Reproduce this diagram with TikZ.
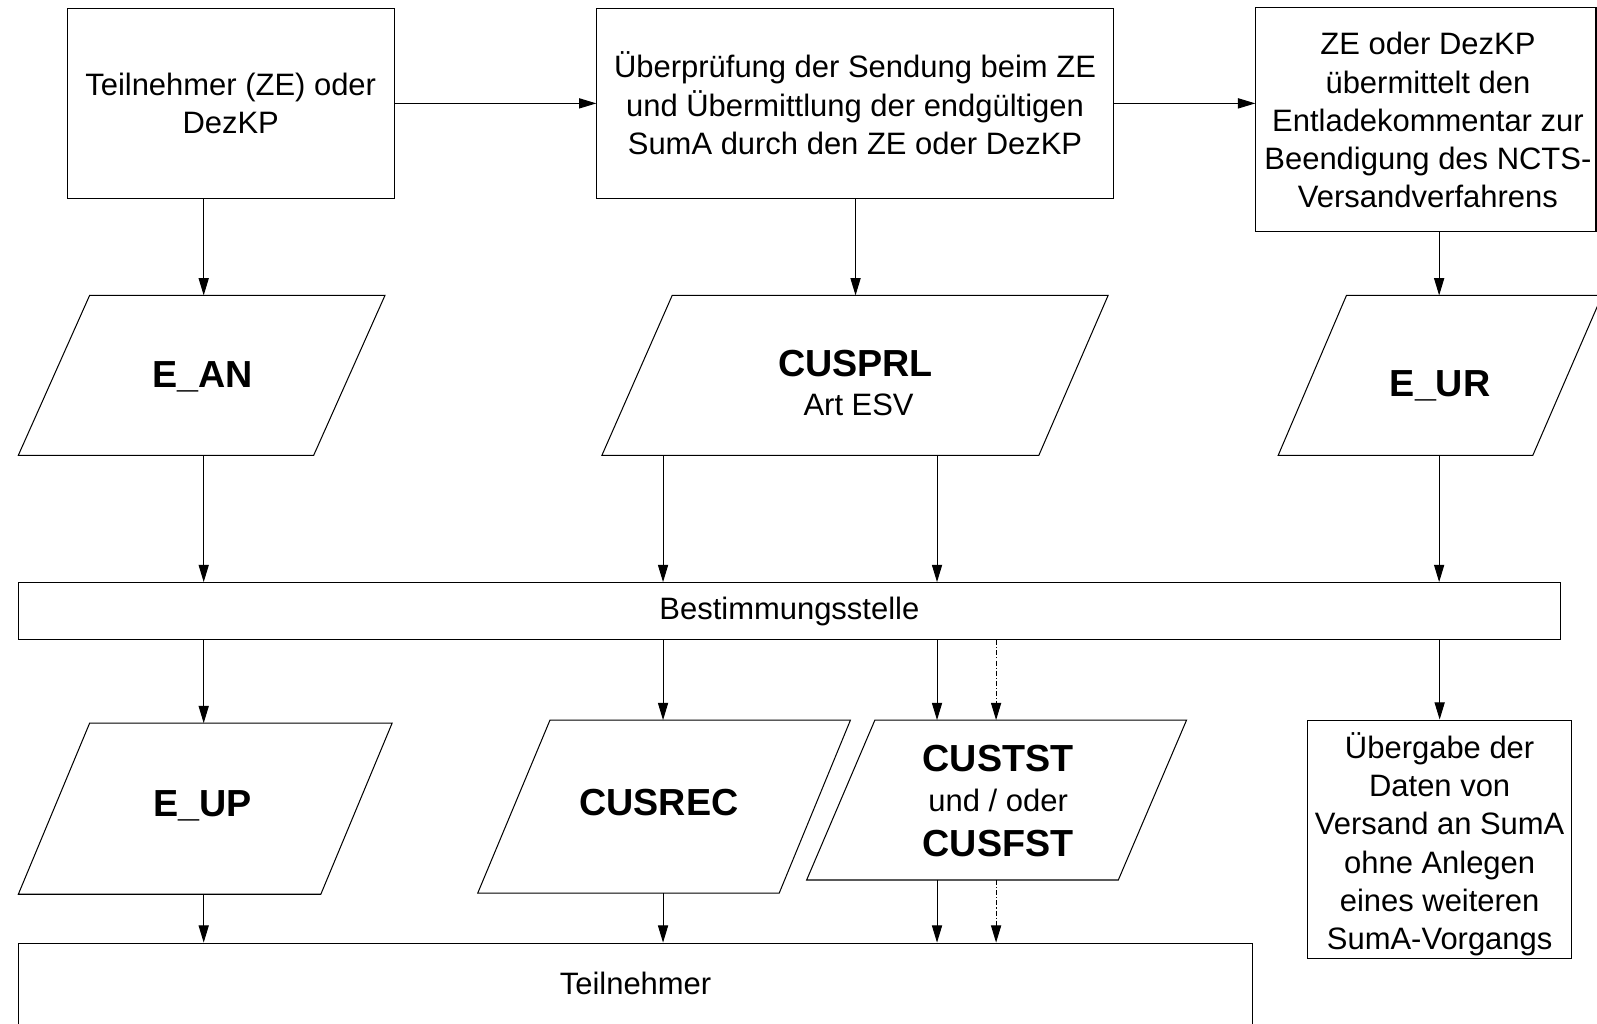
\documentclass[tikz,border=0pt]{standalone}
\usepackage{fontspec}
\setmainfont{Liberation Sans}
\usetikzlibrary{arrows.meta}
\newcommand\rfont{\fontsize{30.4}{37.5}\selectfont}
\newcommand\bfnt{\fontsize{37}{42}\selectfont\bfseries}
\begin{document}
\begin{tikzpicture}[x=1pt,y=-1pt,
  box/.style={draw, line width=1pt, align=center, font=\rfont, inner sep=0pt},
  para/.style={draw, line width=1pt, line join=miter},
  arr/.style={draw, line width=1pt, -{Triangle[length=17pt,width=10pt]}},
  dd/.style={dash pattern=on 5pt off 2pt on 1pt off 2pt},
  big/.style={font=\bfnt, inner sep=0pt, anchor=base},
  sml/.style={font=\rfont, inner sep=0pt, anchor=base},
  inlbl/.style={font=\rfont, align=center, inner sep=0pt}]
\clip (0,0) rectangle (1568,1005);
\fill[white] (0,0) rectangle (1568,1005);

% top row boxes
\node[box, minimum width=321pt, minimum height=187pt] (a) at (226.5,101.5) {Teilnehmer (ZE) oder\\DezKP};
\node[box, minimum width=507pt, minimum height=187pt] (b) at (839.5,101.5) {Überprüfung der Sendung beim ZE\\und Übermittlung der endgültigen\\SumA durch den ZE oder DezKP};
\node[box, minimum width=334pt, minimum height=220pt,
  label={[inlbl, xshift=2pt, yshift=-1pt]center:ZE oder DezKP\\übermittelt den\\Entladekommentar zur\\Beendigung des NCTS-\\Versandverfahrens}] (c) at (1400,117) {};

% row 1 parallelograms
\draw[para] (88,290) -- (378,290) -- (308,447) -- (18,447) -- cycle;
\coordinate (eanT) at (200,290); \coordinate (eanB) at (200,447);
\node[big] (ean) at (199,380) {E\_AN};

\draw[para] (660,290) -- (1088,290) -- (1020,447) -- (591,447) -- cycle;
\coordinate (prlT) at (840,290); \coordinate (prlB1) at (651,447); \coordinate (prlB2) at (920,447);
\node[big] (prl) at (840,370) {CUSPRL};
\node[sml] (prlart) at (843,408) {Art ESV};

\draw[para] (1322,290) -- (1573,290) -- (1505,447) -- (1255,447) -- cycle;
\coordinate (eurT) at (1413,290); \coordinate (eurB) at (1413,447);
\node[big] (eur) at (1414,389) {E\_UR};

% Bestimmungsstelle
\node[box, minimum width=1514pt, minimum height=56pt] (best) at (775,600) {Bestimmungsstelle};

% row 2
\draw[para] (88,710) -- (385,710) -- (315,878) -- (18,878) -- cycle;
\coordinate (eupT) at (200,710); \coordinate (eupB) at (200,878);
\node[big] (eup) at (199,802) {E\_UP};

\draw[para] (540,707) -- (835,707) -- (765,877) -- (469,877) -- cycle;
\coordinate (recT) at (651,707); \coordinate (recB) at (651,877);
\node[big] (rec) at (647,801) {CUSREC};

\draw[para] (859,707) -- (1165,707) -- (1098,864) -- (792,864) -- cycle;
\coordinate (tstT1) at (920,707); \coordinate (tstT2) at (978,707);
\coordinate (tstB1) at (920,864); \coordinate (tstB2) at (978,864);
\node[big] (tst) at (980,757) {CUSTST};
\node[sml] (und) at (980,797) {und / oder};
\node[big] (fst) at (980,841) {CUSFST};

\node[box, minimum width=259pt, minimum height=234pt,
  label={[inlbl, yshift=-5pt]center:Übergabe der\\Daten von\\Versand an SumA\\ohne Anlegen\\eines weiteren\\SumA-Vorgangs}] (ueb) at (1413.5,824) {};

\node[box, minimum width=1212pt, minimum height=80pt] (teil) at (624,966) {Teilnehmer};

% connectors
\draw[arr] (a.east) -- (b.west);
\draw[arr] (b.east) -- (b.east -| c.west);
\draw[arr] (a.south -| eanT) -- (eanT);
\draw[arr] (b.south -| prlT) -- (prlT);
\draw[arr] (c.south -| eurT) -- (eurT);
\draw[arr] (eanB) -- (eanB |- best.north);
\draw[arr] (prlB1) -- (prlB1 |- best.north);
\draw[arr] (prlB2) -- (prlB2 |- best.north);
\draw[arr] (eurB) -- (eurB |- best.north);
\draw[arr] (best.south -| eupT) -- (eupT);
\draw[arr] (best.south -| recT) -- (recT);
\draw[arr] (best.south -| tstT1) -- (tstT1);
\draw[arr, dd] (best.south -| tstT2) -- (tstT2);
\draw[arr] (best.south -| ueb.north) -- (ueb.north);
\draw[arr] (eupB) -- (eupB |- teil.north);
\draw[arr] (recB) -- (recB |- teil.north);
\draw[arr] (tstB1) -- (tstB1 |- teil.north);
\draw[arr, dd] (tstB2) -- (tstB2 |- teil.north);
\end{tikzpicture}
\end{document}
